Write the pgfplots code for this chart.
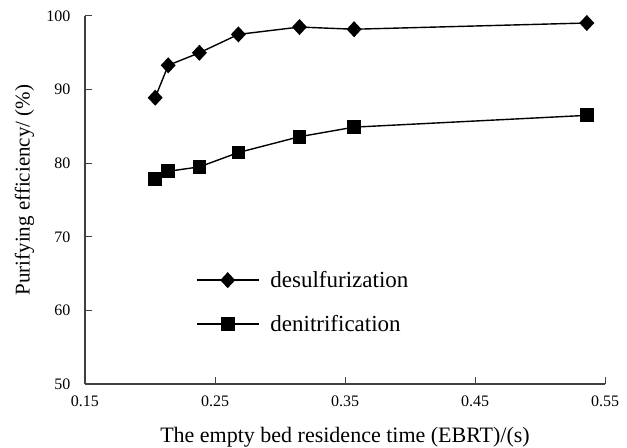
\documentclass[border=0pt]{standalone}
\usepackage{pgfplots}
\pgfplotsset{compat=1.18}
\usepackage{fontspec}
\setmainfont{Liberation Serif}
\begin{document}
\begin{tikzpicture}
\useasboundingbox (-85bp,-64bp) rectangle (542bp,384bp);
\begin{axis}[
  at={(0,0)}, anchor=south west,
  scale only axis, width=520bp, height=368bp,
  xmin=0.15, xmax=0.55, ymin=50, ymax=100,
  clip=false,
  axis lines=left,
  axis line style={-, line width=1.1bp, black!75},
  xtick={0.15,0.25,0.35,0.45,0.55},
  xticklabels={0.15,0.25,0.35,0.45,0.55},
  ytick={50,60,70,80,90,100},
  tick align=inside, major tick length=7bp,
  tick style={line width=1bp, black!75},
  /pgf/number format/assume math mode=true,
  ticklabel style={font=\fontsize{16bp}{18bp}\selectfont},
  yticklabel style={xshift=-11bp},
  xticklabel style={yshift=-8bp},
  xlabel={The empty bed residence time (EBRT)/(s)},
  ylabel={Purifying efficiency/ (\%)},
  xlabel style={font=\fontsize{22bp}{24bp}\selectfont, at={(axis description cs:0.5,-0.1603)}, anchor=base},
  ylabel style={font=\fontsize{21bp}{24bp}\selectfont, at={(axis description cs:-0.1067,0.527)}, anchor=base},
  legend style={draw=none, fill=none, inner sep=0pt, outer sep=0pt,
    at={(axis description cs:0.2135,0.2228)}, anchor=west,
    nodes={inner sep=0pt}, row sep=26bp, column sep=11bp,
    font=\fontsize{23bp}{25bp}\selectfont},
  legend cell align=left,
  legend image code/.code={\draw[mark repeat=2,mark phase=2] plot coordinates {(0bp,0bp) (31bp,0bp) (62bp,0bp)};},
]
\addplot[black, line width=1.4bp, mark=diamond*, mark size=7bp, mark options={xscale=1.24, solid}]
coordinates {(0.204,88.9) (0.214,93.3) (0.238,95.0) (0.268,97.5) (0.315,98.5) (0.357,98.2) (0.536,99.05)};
\addlegendentry{desulfurization}
\addplot[black, line width=1.4bp, mark=square*, mark size=6.2bp, mark options={solid}]
coordinates {(0.204,77.8) (0.214,78.9) (0.238,79.5) (0.268,81.45) (0.315,83.6) (0.357,84.9) (0.536,86.5)};
\addlegendentry{denitrification}
\end{axis}
\end{tikzpicture}
\end{document}
